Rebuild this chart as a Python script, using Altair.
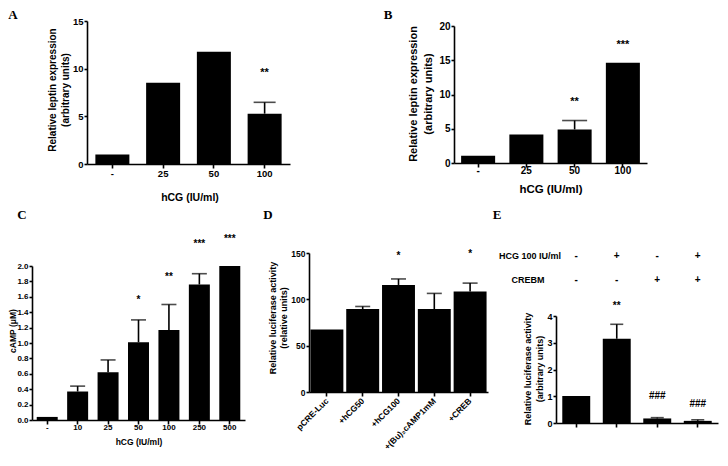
import altair as alt
import pandas as pd

FONT = "Liberation Sans"

# ---------------- data ----------------
a_cats = ["-", "25", "50", "100"]
a_mean = [1.0, 8.53, 11.78, 5.28]
a_err = [None, None, None, 6.47]
a_star = ["", "", "", "**"]
a_star_y = [None, None, None, 9.8]
a_ticks = [0, 5, 10, 15]

b_cats = ["-", "25", "50", "100"]
b_mean = [1.05, 4.15, 4.9, 14.65]
b_err = [None, None, 6.2, None]
b_star = ["", "", "**", "***"]
b_star_y = [None, None, 9.3, 17.6]
b_ticks = [0, 5, 10, 15, 20]

c_cats = ["-", "10", "25", "50", "100", "250", "500"]
c_mean = [0.04, 0.37, 0.62, 1.01, 1.17, 1.76, 2.0]
c_err = [None, 0.44, 0.78, 1.30, 1.50, 1.90, None]
c_star = ["", "", "", "*", "**", "***", "***"]
c_star_y = [None, None, None, 1.59, 1.89, 2.32, 2.38]
c_ticks = [0.0, 0.2, 0.4, 0.6, 0.8, 1.0, 1.2, 1.4, 1.6, 1.8, 2.0]

d_cats = ["pCRE-Luc", "+hCG50", "+hCG100", "+(Bu)\u2082cAMP1mM", "+CREB"]
d_mean = [67.5, 89.5, 115.5, 89.5, 108.5]
d_err = [None, 92.3, 122.0, 106.4, 117.5]
d_star = ["", "", "*", "", "*"]
d_star_y = [None, None, 149, None, 152]
d_ticks = [0, 50, 100, 150]

e_cats = ["g1", "g2", "g3", "g4"]
e_mean = [1.01, 3.15, 0.17, 0.08]
e_err = [None, 3.69, 0.20, 0.12]
e_star = ["", "**", "###", "###"]
e_star_y = [None, 4.46, 1.01, 0.70]
e_hcg = ["-", "+", "-", "+"]
e_crebm = ["-", "-", "+", "+"]
e_ticks = [0, 1, 2, 3, 4]

ONE = pd.DataFrame({"f": [0]})


def txt(text, x, y, size, angle=0, font=FONT, weight="bold"):
    kw = dict(font=font, fontWeight=weight, fontSize=size, color="black",
              baseline="middle", align="center")
    if angle:
        kw["angle"] = angle
    return alt.Chart(ONE).mark_text(**kw).encode(
        x=alt.value(x), y=alt.value(y), text=alt.value(text))


def panel(cats, mean, err, star, star_y, *, cell, plot, dom, ticks, pad, cap,
          ylabel_size, xlabel_size, xlabel_pad, star_size, yfmt=None,
          xlabel_angle=0, show_xlabels=True, extra=None):
    CW, CH = cell
    px, py, W, H = plot
    df = pd.DataFrame({"cat": cats, "mean": mean, "err": err,
                       "star": star, "sy": star_y})
    if extra is not None:
        for k, v in extra.items():
            df[k] = v

    xax = dict(title=None, tickSize=4, labelFontSize=xlabel_size,
               labelPadding=xlabel_pad, labelBaseline="middle",
               labelOverlap=False, offset=-(CH - py - H))
    if show_xlabels:
        if xlabel_angle:
            xax.update(labelAngle=xlabel_angle, labelAlign="right")
        else:
            xax.update(labelAngle=0, labelAlign="center")
    else:
        xax.update(labels=False)
    xaxis = alt.Axis(**xax)

    yax = dict(values=ticks, title=None, labelFontSize=ylabel_size, tickSize=3,
               labelPadding=1, labelOverlap=False, offset=-px)
    if yfmt:
        yax["format"] = yfmt
    yaxis = alt.Axis(**yax)

    xs = alt.Scale(range=[px, px + W], paddingInner=pad, paddingOuter=pad / 2)
    ys = alt.Scale(domain=dom, range=[py + H, py], nice=False, zero=True)
    x = alt.X("cat:N", sort=cats, scale=xs, axis=xaxis)

    def Y(f):
        return alt.Y(f, type="quantitative", scale=ys, axis=yaxis)

    bars = alt.Chart(df).mark_bar(color="black").encode(x=x, y=Y("mean"))
    rule = alt.Chart(df).transform_filter("isValid(datum.err)").mark_rule(
        color="black", strokeWidth=1.6).encode(x=x, y=Y("mean"), y2="err:Q")
    capm = alt.Chart(df).transform_filter("isValid(datum.err)").mark_tick(
        color="black", size=cap, thickness=1.6).encode(x=x, y=Y("err"))
    stars = alt.Chart(df).transform_filter("indexof(datum.star, '*') >= 0").mark_text(
        font=FONT, fontWeight="bold", fontSize=star_size, color="black",
        baseline="middle", align="center", dy=2.5).encode(x=x, y=Y("sy"), text="star:N")
    hashes = alt.Chart(df).transform_filter("indexof(datum.star, '#') >= 0").mark_text(
        font=FONT, fontWeight="bold", fontSize=star_size, color="black",
        baseline="middle", align="center").encode(x=x, y=Y("sy"), text="star:N")
    return df, x, [bars, rule, capm, stars, hashes]


ROW1_H = 198
ROW2_H = 242

# ---- A : cell at page (8,8) ----
_, _, la = panel(a_cats, a_mean, a_err, a_star, a_star_y, cell=(322, ROW1_H),
                 plot=(79, 13, 203, 143), dom=[0, 15], ticks=a_ticks, pad=0.33, cap=22,
                 ylabel_size=9.5, xlabel_size=9.5, xlabel_pad=5, star_size=11)
A = alt.layer(
    *la,
    txt("A", 5, 7, 13, font="Liberation Serif"),
    txt("Relative leptin expression", 45, 82, 10, angle=270),
    txt("(arbitrary units)", 58, 82, 10, angle=270),
    txt("hCG (IU/ml)", 182, 190, 10.5),
).properties(width=322, height=ROW1_H)

# ---- B : cell at page (330,8) ----
_, _, lb = panel(b_cats, b_mean, b_err, b_star, b_star_y, cell=(390, ROW1_H),
                 plot=(124, 18, 193, 137), dom=[0, 20], ticks=b_ticks, pad=0.295, cap=25,
                 ylabel_size=10, xlabel_size=10, xlabel_pad=3, star_size=11)
B = alt.layer(
    *lb,
    txt("B", 58, 7, 13, font="Liberation Serif"),
    txt("Relative leptin expression", 84, 86, 11, angle=270),
    txt("(arbitrary units)", 99, 86, 11, angle=270),
    txt("hCG (IU/ml)", 221, 182, 11.5),
).properties(width=390, height=ROW1_H)

# ---- C : cell at page (8,206) ----
_, _, lc = panel(c_cats, c_mean, c_err, c_star, c_star_y, cell=(247, ROW2_H),
                 plot=(24, 60, 213, 154), dom=[0, 2], ticks=c_ticks, pad=0.31, cap=15,
                 ylabel_size=8, xlabel_size=8, xlabel_pad=3, star_size=10, yfmt=".1f")
C = alt.layer(
    *lc,
    txt("C", 14, 9, 13, font="Liberation Serif"),
    txt("cAMP (\u03bcM)", 5, 125, 8.5, angle=270),
    txt("hCG (IU/ml)", 131, 236, 8.5),
).properties(width=247, height=ROW2_H)

# ---- D : cell at page (255,206) ----
_, _, ld = panel(d_cats, d_mean, d_err, d_star, d_star_y, cell=(235, ROW2_H),
                 plot=(54, 47, 179, 139), dom=[0, 150], ticks=d_ticks, pad=0.08, cap=15,
                 ylabel_size=8.5, xlabel_size=8.5, xlabel_pad=3, xlabel_angle=315,
                 star_size=10)
D = alt.layer(
    *ld,
    txt("D", 13, 9, 13, font="Liberation Serif"),
    txt("Relative luciferase activity", 18, 112, 9, angle=270),
    txt("(relative units)", 29, 112, 9, angle=270),
).properties(width=235, height=ROW2_H)

# ---- E : cell at page (490,206) ----
dfe, xe, le = panel(e_cats, e_mean, e_err, e_star, e_star_y, cell=(230, ROW2_H),
                    plot=(66, 110, 162, 107), dom=[0, 4], ticks=e_ticks, pad=0.31, cap=13,
                    ylabel_size=9, xlabel_size=9, xlabel_pad=2, show_xlabels=False,
                    star_size=10, extra={"hcg": e_hcg, "crebm": e_crebm})
sign_style = dict(font=FONT, fontWeight="bold", fontSize=10, color="black",
                  baseline="middle", align="center")
row1 = alt.Chart(dfe).mark_text(**sign_style).encode(x=xe, y=alt.value(50), text="hcg:N")
row2 = alt.Chart(dfe).mark_text(**sign_style).encode(x=xe, y=alt.value(74), text="crebm:N")
E = alt.layer(
    *le, row1, row2,
    txt("E", 7, 9, 13, font="Liberation Serif"),
    txt("HCG 100 IU/ml", 40, 50, 9),
    txt("CREBM", 38, 74, 9),
    txt("Relative luciferase activity", 38, 163, 9, angle=270),
    txt("(arbitrary units)", 50, 163, 9, angle=270),
).properties(width=230, height=ROW2_H)

top = alt.hconcat(A, B, spacing=0)
bottom = alt.hconcat(C, D, E, spacing=0)
chart = alt.vconcat(top, bottom, spacing=0).properties(
    padding=0, background="white"
).configure_view(stroke=None).configure_axis(
    domainColor="black", domainWidth=1.6, tickColor="black", tickWidth=1.6,
    labelColor="black", titleColor="black", labelFont=FONT, titleFont=FONT,
    labelFontWeight="bold", titleFontWeight="bold", grid=False
)

chart.save("out.html", embed_options={"renderer": "svg", "actions": False})
